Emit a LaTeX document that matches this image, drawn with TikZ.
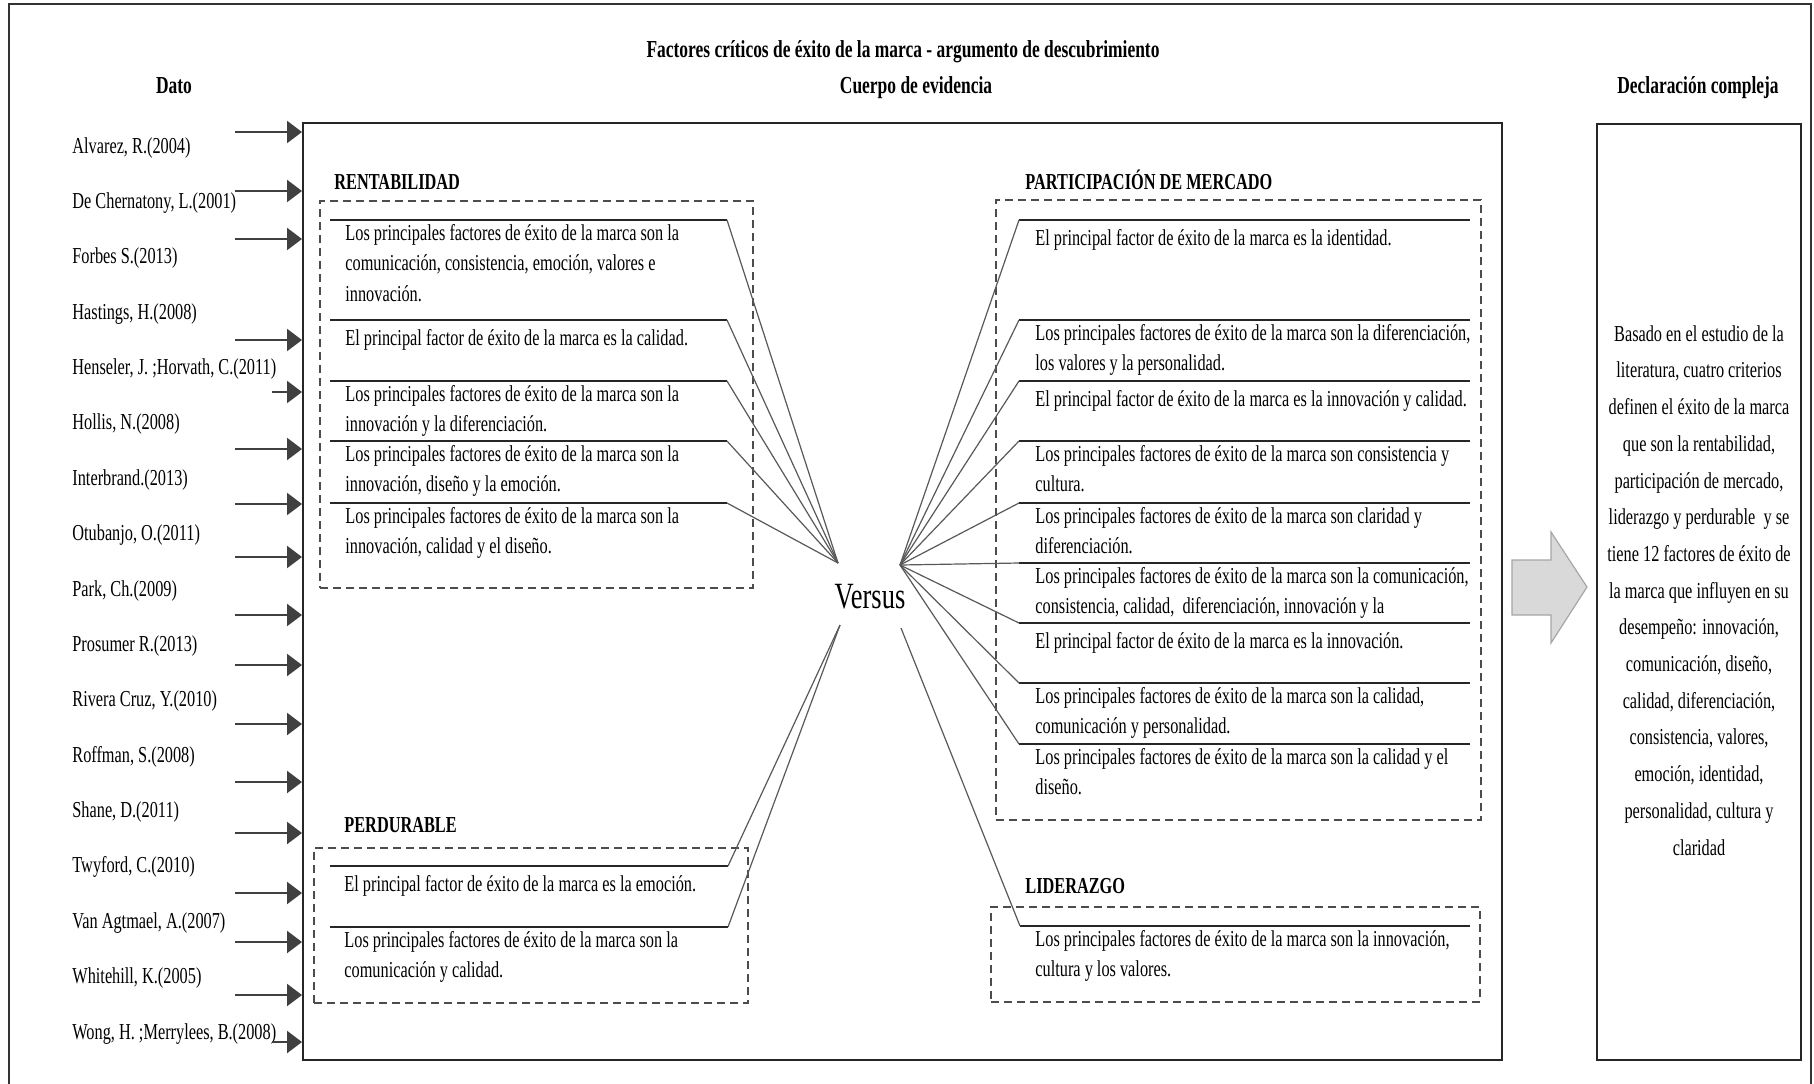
\documentclass[tikz,border=0pt]{standalone}
\usepackage{fontspec}
\setmainfont[FakeStretch=0.715]{Liberation Serif}
\usetikzlibrary{arrows.meta,fit}
\tikzset{
  marco/.style={draw=black!80, line width=1.2pt},
  panel/.style={draw=black!85, line width=1pt, inner sep=0pt},
  grupo/.style={draw=black!70, line width=0.55pt, dash pattern=on 4pt off 2.5pt, inner sep=0pt},
  sepline/.style={draw=black!85, line width=1pt},
  rayo/.style={draw=black!65, line width=0.6pt},
  datarrow/.style={draw=black!75, line width=1.2pt, -{Triangle[length=7.5pt,width=11pt]}},
  flecha/.style={fill=black!15, draw=black!35, line width=0.6pt},
  txt/.style={inner sep=0pt, font=\fontsize{11.4}{15.2}\selectfont},
  itemtxt/.style={txt, anchor=north west, align=left, execute at begin node=\strut},
  cita/.style={txt, anchor=base west},
  seccion/.style={inner sep=0pt, anchor=base west, font=\bfseries\fontsize{11.4}{14.5}\selectfont},
  encabezado/.style={inner sep=0pt, anchor=base, font=\bfseries\fontsize{12.2}{15}\selectfont},
}
\begin{document}
\begin{tikzpicture}[x=0.5pt, y={(0pt,-0.5pt)}]
\useasboundingbox (0,0) rectangle (1814,1083);
\fill[white] (0,0) rectangle (1814,1083);

% outer frame (runs past the lower edge)
\draw[marco] (9,1100) |- (1811,4) -- (1811,1100);

% headings
\node[encabezado] (titulo) at (903,57) {Factores críticos de éxito de la marca - argumento de descubrimiento};
\node[encabezado] (cuerpotit) at (916,93) {Cuerpo de evidencia};
\node[encabezado] (datotit) at (174,93) {Dato};
\node[encabezado] (decltit) at (1698,93) {Declaración compleja};

% main panels
\node[panel, fit={(303,123) (1502,1060)}] (cuerpo) {};
\node[panel, fit={(1597,124) (1801,1060)}] (decl) {};

% data sources
\foreach \t [count=\i from 0] in {{Alvarez, R.(2004)},{De Chernatony, L.(2001)},{Forbes S.(2013)},{Hastings, H.(2008)},{Henseler, J. ;Horvath, C.(2011)},{Hollis, N.(2008)},{Interbrand.(2013)},{Otubanjo, O.(2011)},{Park, Ch.(2009)},{Prosumer R.(2013)},{Rivera Cruz, Y.(2010)},{Roffman, S.(2008)},{Shane, D.(2011)},{Twyford, C.(2010)},{Van Agtmael, A.(2007)},{Whitehill, K.(2005)},{Wong, H. ;Merrylees, B.(2008)}}
  \node[cita] (cit\i) at (72,{153+55.375*\i}) {\t};

\foreach \y/\x [count=\i] in {132/235,191/235,239/235,340/235,392/272,449/235,504/235,557/235,615/235,665/235,724/235,782/235,833/235,893/235,942/235,995/235,1042/272}{
  \coordinate (src\i) at (\x,\y);
  \draw[datarrow] (src\i) -- (src\i -| cuerpo.west);
}

% group frames
\node[grupo, fit={(320,201) (753,588)}] (rentbox) {};
\node[grupo, fit={(996,200) (1481,820)}] (partbox) {};
\node[grupo, fit={(314,848) (748,1003)}] (perdbox) {};
\node[grupo, fit={(991,907) (1480,1002)}] (lidbox) {};

\node[seccion] (rentit) at (334,189) {RENTABILIDAD};
\node[seccion] (partit) at (1025,189) {PARTICIPACIÓN DE MERCADO};
\node[seccion] (perdtit) at (344,832) {PERDURABLE};
\node[seccion] (lidtit) at (1025,893) {LIDERAZGO};

% central hub
\node[inner sep=0pt, anchor=base, font=\fontsize{18.5}{22}\selectfont] (vs) at (870,608) {Versus};
\coordinate (vnw) at (838,563);
\coordinate (vne) at (900,565);
\coordinate (vsw) at (840,625);
\coordinate (vse) at (901,628);

% rules under each statement and rays to the hub
\foreach \y [count=\i] in {220,320,381,441,503}{
  \coordinate (rs\i) at (330,\y); \coordinate (re\i) at (727,\y);
  \draw[sepline] (rs\i) -- (re\i);
  \draw[rayo] (re\i) -- (vnw);
}
\foreach \y [count=\i] in {220,320,381,441,503,563,623,683,744}{
  \coordinate (ps\i) at (1470,\y); \coordinate (pe\i) at (1019,\y);
  \draw[sepline] (ps\i) -- (pe\i);
  \draw[rayo] (pe\i) -- (vne);
}
\foreach \y [count=\i] in {866,927}{
  \coordinate (ds\i) at (330,\y); \coordinate (de\i) at (728,\y);
  \draw[sepline] (ds\i) -- (de\i);
  \draw[rayo] (de\i) -- (vsw);
}
\coordinate (ls1) at (1470,926); \coordinate (le1) at (1020,926);
\draw[sepline] (ls1) -- (le1);
\draw[rayo] (le1) -- (vse);

% statements
\node[itemtxt] (rent1) at ([shift={(15,4)}]rs1) {Los principales factores de éxito de la marca son la\\comunicación, consistencia, emoción, valores e\\innovación.};
\node[itemtxt] (rent2) at ([shift={(15,4)}]rs2) {El principal factor de éxito de la marca es la calidad.};
\node[itemtxt] (rent3) at ([shift={(15,4)}]rs3) {Los principales factores de éxito de la marca son la\\innovación y la diferenciación.};
\node[itemtxt] (rent4) at ([shift={(15,4)}]rs4) {Los principales factores de éxito de la marca son la\\innovación, diseño y la emoción.};
\node[itemtxt] (rent5) at ([shift={(15,4)}]rs5) {Los principales factores de éxito de la marca son la\\innovación, calidad y el diseño.};

\node[itemtxt] (part1) at ([shift={(16,4)}]pe1) {El principal factor de éxito de la marca es la identidad.};
\node[itemtxt] (part2) at ([shift={(16,4)}]pe2) {Los principales factores de éxito de la marca son la diferenciación,\\los valores y la personalidad.};
\node[itemtxt] (part3) at ([shift={(16,4)}]pe3) {El principal factor de éxito de la marca es la innovación y calidad.};
\node[itemtxt] (part4) at ([shift={(16,4)}]pe4) {Los principales factores de éxito de la marca son consistencia y\\cultura.};
\node[itemtxt] (part5) at ([shift={(16,4)}]pe5) {Los principales factores de éxito de la marca son claridad y\\diferenciación.};
\node[itemtxt] (part6) at ([shift={(16,4)}]pe6) {Los principales factores de éxito de la marca son la comunicación,\\consistencia, calidad,\ \ diferenciación, innovación y la};
\node[itemtxt] (part7) at ([shift={(16,4)}]pe7) {El principal factor de éxito de la marca es la innovación.};
\node[itemtxt] (part8) at ([shift={(16,4)}]pe8) {Los principales factores de éxito de la marca son la calidad,\\comunicación y personalidad.};
\node[itemtxt] (part9) at ([shift={(16,4)}]pe9) {Los principales factores de éxito de la marca son la calidad y el\\diseño.};

\node[itemtxt] (perd1) at ([shift={(14,4)}]ds1) {El principal factor de éxito de la marca es la emoción.};
\node[itemtxt] (perd2) at ([shift={(14,4)}]ds2) {Los principales factores de éxito de la marca son la\\comunicación y calidad.};

\node[itemtxt] (lid1) at ([shift={(15,4)}]le1) {Los principales factores de éxito de la marca son la innovación,\\cultura y los valores.};

% transition arrow and conclusion
\draw[flecha] (1512,560) -- (1551,560) -- (1551,532) -- (1587,587) -- (1551,643) -- (1551,615) -- (1512,615) -- cycle;
\node[txt, font=\fontsize{11.4}{18.35}\selectfont, align=center, anchor=north, execute at begin node=\strut] (decltxt) at (1699,325)
  {Basado en el estudio de la\\literatura, cuatro criterios\\definen el éxito de la marca\\que son la rentabilidad,\\participación de mercado,\\liderazgo y perdurable\ \ y se\\tiene 12 factores de éxito de\\la marca que influyen en su\\desempeño: innovación,\\comunicación, diseño,\\calidad, diferenciación,\\consistencia, valores,\\emoción, identidad,\\personalidad, cultura y\\claridad};
\end{tikzpicture}
\end{document}
